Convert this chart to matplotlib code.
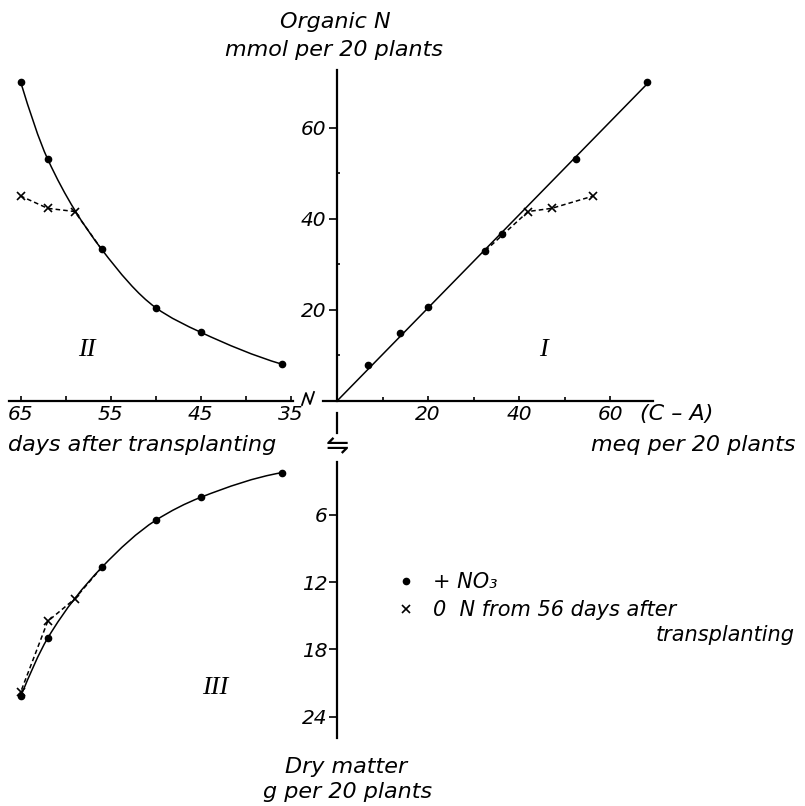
import numpy as np
import matplotlib
matplotlib.use('Agg')
import matplotlib.pyplot as plt
from matplotlib.path import Path
from matplotlib.patches import PathPatch
from matplotlib.lines import Line2D

#----------------------------------------------------
# Data
#----------------------------------------------------

# quadrant I: (C-A) meq per 20 plants vs organic N mmol per 20 plants
ca_no3 = [6.9, 13.8, 19.9, 32.6, 36.2, 52.5, 68.2]
orgn_ca_no3 = [7.9, 14.9, 20.6, 33.0, 36.6, 53.2, 70.0]
ca_0n = [32.6, 42.0, 47.2, 56.3]
orgn_ca_0n = [33.0, 41.6, 42.3, 45.0]

# quadrant II: days after transplanting vs organic N
days_no3 = [36, 45, 50, 56, 62, 65]
orgn_no3 = [8.1, 15.1, 20.5, 33.3, 53.1, 70.0]
days_0n = [56, 59, 62, 65]
orgn_0n = [33.3, 41.6, 42.3, 45.0]

# quadrant III: days after transplanting vs dry matter g per 20 plants
dm_no3 = [2.25, 4.45, 6.5, 10.7, 17.0, 22.2]
dm_0n = [10.7, 13.5, 15.5, 21.8]

ca_ticks = [20, 40, 60]
ca_minor = [10, 30, 50]
orgn_ticks = [20, 40, 60]
orgn_minor = [10, 30, 50]
day_ticks = [65, 55, 45, 35]
day_minor = [60, 50, 40]
dm_ticks = [6, 12, 18, 24]

#----------------------------------------------------
# Helpers
#----------------------------------------------------

W, H = 805, 806

def box(x0, y0, x1, y1):
    """pixel box (top-left origin) -> figure fraction rect"""
    return [x0 / W, 1 - y1 / H, (x1 - x0) / W, (y1 - y0) / H]

def fx(x):
    return x / W

def fy(y):
    return 1 - y / H

def smooth_path(xs, ys):
    """monotone cubic (Fritsch-Carlson) through the points, as bezier Path"""
    x = np.asarray(xs, float)
    y = np.asarray(ys, float)
    h = np.diff(x)
    d = np.diff(y) / h
    n = len(x)
    m = np.zeros(n)
    for k in range(1, n - 1):
        if d[k - 1] * d[k] > 0:
            w1 = 2 * h[k] + h[k - 1]
            w2 = h[k] + 2 * h[k - 1]
            m[k] = (w1 + w2) / (w1 / d[k - 1] + w2 / d[k])
    m[0] = ((2 * h[0] + h[1]) * d[0] - h[0] * d[1]) / (h[0] + h[1])
    if m[0] * d[0] <= 0:
        m[0] = 0
    m[-1] = ((2 * h[-1] + h[-2]) * d[-1] - h[-1] * d[-2]) / (h[-1] + h[-2])
    if m[-1] * d[-1] <= 0:
        m[-1] = 0
    verts = [(x[0], y[0])]
    codes = [Path.MOVETO]
    for i in range(n - 1):
        verts += [(x[i] + h[i] / 3, y[i] + m[i] * h[i] / 3),
                  (x[i + 1] - h[i] / 3, y[i + 1] - m[i + 1] * h[i] / 3),
                  (x[i + 1], y[i + 1])]
        codes += [Path.CURVE4] * 3
    return Path(verts, codes)

plt.rcParams['font.family'] = 'DejaVu Sans'
plt.rcParams['font.style'] = 'italic'

LW_AX = 1.6
LW = 1.1
DASH = (0, (3, 2))
dot = dict(marker='o', ms=4.5, color='k', ls='none')
cross = dict(marker='x', ms=5.5, mew=1.2, color='k')

fig = plt.figure(figsize=(8.05, 8.06), dpi=100)

#----------------------------------------------------
# Quadrant I
#----------------------------------------------------
ax1 = fig.add_axes(box(323, 70, 653, 401))
ax1.set_xlim(-3.08, 69.45)
ax1.set_ylim(0, 72.67)
ax1.patch.set_visible(False)
for s in ['top', 'right']:
    ax1.spines[s].set_visible(False)
ax1.spines['left'].set_position(('data', 0))
ax1.spines['left'].set_linewidth(LW_AX)
ax1.spines['bottom'].set_linewidth(LW_AX)
ax1.set_xticks(ca_ticks)
ax1.set_xticks(ca_minor, minor=True)
ax1.set_yticks(orgn_ticks)
ax1.set_yticks(orgn_minor, minor=True)
ax1.tick_params(axis='x', which='major', direction='in', length=3.6, width=1.2,
                pad=3, labelsize=14.5)
ax1.tick_params(axis='x', which='minor', direction='in', length=2.8, width=1.2)
ax1.tick_params(axis='y', which='major', direction='out', length=6, width=1.2,
                pad=1.5, labelsize=14.5)
ax1.tick_params(axis='y', which='minor', direction='in', length=2.5, width=1.2)

slope = np.dot(ca_no3, orgn_ca_no3) / np.dot(ca_no3, ca_no3)
x_fit = np.array([0, max(ca_no3)])
ax1.plot(x_fit, slope * x_fit, color='k', lw=LW)
ax1.plot(ca_no3, orgn_ca_no3, **dot)
ax1.plot(ca_0n, orgn_ca_0n, ls=DASH, lw=LW, markevery=[1, 2, 3], **cross)

#----------------------------------------------------
# Quadrant II
#----------------------------------------------------
ax2 = fig.add_axes(box(9, 70, 293, 401))
ax2.set_xlim(66.3, 34.74)
ax2.set_ylim(0, 72.67)
ax2.patch.set_visible(False)
for s in ['top', 'right', 'left']:
    ax2.spines[s].set_visible(False)
ax2.spines['bottom'].set_linewidth(LW_AX)
ax2.set_xticks(day_ticks)
ax2.set_xticks(day_minor, minor=True)
ax2.set_yticks([])
ax2.tick_params(axis='x', which='major', direction='in', length=3.6, width=1.2,
                pad=3, labelsize=14.5)
ax2.tick_params(axis='x', which='minor', direction='in', length=3.6, width=1.2)

ax2.add_patch(PathPatch(smooth_path(days_no3, orgn_no3), fill=False, lw=LW, color='k'))
ax2.plot(days_no3, orgn_no3, **dot)
ax2.plot(days_0n, orgn_0n, ls=DASH, lw=LW, markevery=[1, 2, 3], **cross)

#----------------------------------------------------
# Quadrant III
#----------------------------------------------------
ax3 = fig.add_axes(box(9, 462, 337, 738))
ax3.set_xlim(66.3, 29.86)
ax3.set_ylim(25.9, 1.3)
ax3.patch.set_visible(False)
for s in ['top', 'right', 'bottom']:
    ax3.spines[s].set_visible(False)
ax3.spines['left'].set_position(('axes', 1.0))
ax3.spines['left'].set_linewidth(LW_AX)
ax3.set_xticks([])
ax3.set_yticks(dm_ticks)
ax3.tick_params(axis='y', direction='out', length=5.5, width=1.2, pad=1.5,
                labelsize=14.5)

ax3.add_patch(PathPatch(smooth_path(days_no3, dm_no3), fill=False, lw=LW, color='k'))
ax3.plot(days_no3, dm_no3, **dot)
ax3.plot(days_0n, dm_0n, ls=DASH, lw=LW, markevery=[1, 2, 3], **cross)

#----------------------------------------------------
# Axis breaks and small pieces of axis
#----------------------------------------------------
fig.add_artist(Line2D([fx(337), fx(337)], [fy(413), fy(433)], color='k', lw=LW_AX))
fig.add_artist(Line2D([fx(302), fx(306), fx(310), fx(314)],
                      [fy(405), fy(393), fy(404), fy(392)], color='k', lw=1.3))
fig.text(fx(337), fy(446), '\u21cb', ha='center', va='center', fontsize=20,
         style='normal')

#----------------------------------------------------
# Labels
#----------------------------------------------------
lab = dict(fontsize=16, va='center')
fig.text(fx(335), fy(22), 'Organic N', ha='center', **lab)
fig.text(fx(334), fy(50), 'mmol per 20 plants', ha='center', **lab)
fig.text(fx(640), fy(414), '(C \u2013 A)', ha='left', **lab)
fig.text(fx(795), fy(445), 'meq per 20 plants', ha='right', **lab)
fig.text(fx(8), fy(445), 'days after transplanting', ha='left', **lab)
fig.text(fx(346), fy(767), 'Dry matter', ha='center', **lab)
fig.text(fx(348), fy(792), 'g per 20 plants', ha='center', **lab)

roman = dict(fontsize=19, family='Liberation Serif', style='italic',
             ha='center', va='center')
fig.text(fx(543), fy(350), 'I', **roman)
fig.text(fx(87), fy(350), 'II', **roman)
fig.text(fx(215), fy(688), 'III', **roman)

# legend
handles = [Line2D([], [], **dot),
           Line2D([], [], ls='none', **cross)]
ax1.legend(handles, ['+ NO\u2083', '0  N from 56 days after'],
           loc='upper left', bbox_to_anchor=(fx(398), fy(572)),
           bbox_transform=fig.transFigure, frameon=False, fontsize=15,
           handlelength=0.8, handletextpad=0.9, labelspacing=0.4,
           borderpad=0, borderaxespad=0)
fig.text(fx(795), fy(635), 'transplanting', ha='right', va='center', fontsize=15)

fig.savefig('out.png', dpi=100)
